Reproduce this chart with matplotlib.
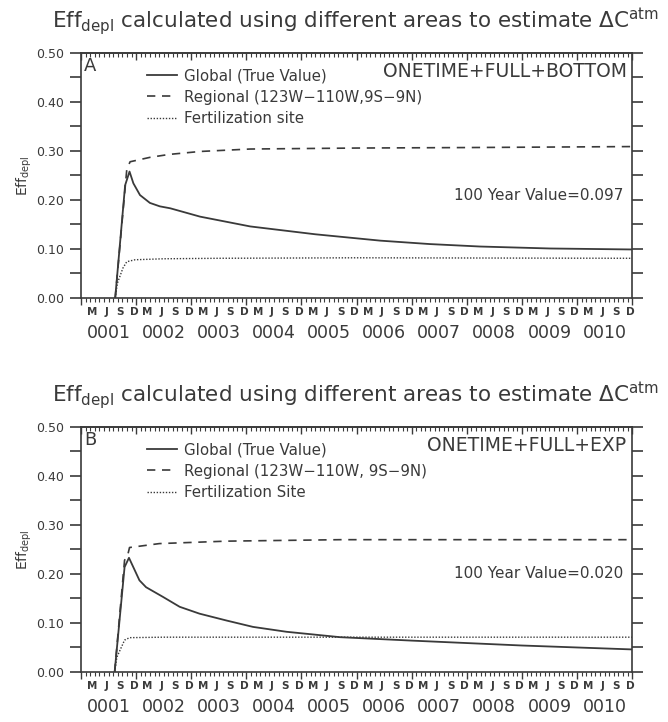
import matplotlib
matplotlib.use('Agg')
import matplotlib.pyplot as plt
from matplotlib.ticker import MultipleLocator
import matplotlib.transforms as mtransforms

# time axis in model years (0 = start of year 0001)
t_glob_a = [0.62, 0.80, 0.88, 0.95, 1.07, 1.25, 1.43, 1.62, 2.16, 3.07, 4.25, 5.43, 6.33, 7.24, 8.51, 10.0]
glob_a = [0.0, 0.230, 0.258, 0.234, 0.210, 0.194, 0.187, 0.183, 0.166, 0.146, 0.130, 0.117, 0.110, 0.105, 0.101, 0.099]
t_reg_a = [0.62, 0.83, 0.89, 1.25, 1.60, 2.16, 3.07, 5.0, 7.0, 10.0]
reg_a = [0.0, 0.262, 0.278, 0.287, 0.293, 0.299, 0.304, 0.306, 0.307, 0.309]
t_fert_a = [0.62, 0.66, 0.76, 0.83, 0.98, 1.5, 2.5, 5.0, 10.0]
fert_a = [0.0, 0.030, 0.061, 0.074, 0.078, 0.080, 0.081, 0.082, 0.081]

t_glob_b = [0.61, 0.79, 0.87, 1.06, 1.18, 1.49, 1.79, 2.15, 2.64, 3.12, 3.73, 4.70, 6.0, 7.0, 8.0, 9.0, 10.0]
glob_b = [0.0, 0.214, 0.233, 0.187, 0.173, 0.153, 0.133, 0.119, 0.105, 0.092, 0.082, 0.071, 0.064, 0.059, 0.054, 0.050, 0.046]
t_reg_b = [0.61, 0.79, 0.85, 0.88, 1.42, 2.64, 4.70, 10.0]
reg_b = [0.0, 0.228, 0.240, 0.254, 0.262, 0.267, 0.270, 0.270]
t_fert_b = [0.61, 0.65, 0.79, 0.88, 1.5, 10.0]
fert_b = [0.0, 0.030, 0.065, 0.070, 0.071, 0.071]

years = ['0001', '0002', '0003', '0004', '0005', '0006', '0007', '0008', '0009', '0010']
months = ['M', 'J', 'S', 'D']
month_idx = [2, 5, 8, 11]

panels = [
    dict(letter='A', tag='ONETIME+FULL+BOTTOM', value='100 Year Value=0.097', value_y=0.21,
         labels=['Global (True Value)', 'Regional (123W\u2212110W,9S\u22129N)', 'Fertilization site'],
         t=(t_glob_a, t_reg_a, t_fert_a), y=(glob_a, reg_a, fert_a)),
    dict(letter='B', tag='ONETIME+FULL+EXP', value='100 Year Value=0.020', value_y=0.20,
         labels=['Global (True Value)', 'Regional (123W\u2212110W, 9S\u22129N)', 'Fertilization Site'],
         t=(t_glob_b, t_reg_b, t_fert_b), y=(glob_b, reg_b, fert_b)),
]

col = '#3a3a3a'
plt.rcParams['font.family'] = 'DejaVu Sans'
plt.rcParams['mathtext.fontset'] = 'dejavusans'

fig = plt.figure(figsize=(6.68, 7.22), dpi=100)
title = r'Eff$_{\rm depl}$ calculated using different areas to estimate $\Delta$C$^{\rm atm}$'

boxes = [[0.1213, 0.5873, 0.8250, 0.3393], [0.1213, 0.0693, 0.8250, 0.3393]]
title_y = [0.970, 0.452]

for p, box, ty in zip(panels, boxes, title_y):
    ax = fig.add_axes(box)
    styles = [dict(ls='-', lw=1.3), dict(ls=(0, (5, 4)), lw=1.2), dict(ls=(0, (1, 1.2)), lw=1.0)]
    for tt, yy, lab, st in zip(p['t'], p['y'], p['labels'], styles):
        ax.plot(tt, yy, color=col, label=lab, **st)

    ax.set_xlim(0, 10)
    ax.set_ylim(0, 0.5)
    for s in ax.spines.values():
        s.set_color(col)
        s.set_linewidth(1.2)

    ax.yaxis.set_major_locator(MultipleLocator(0.1))
    ax.yaxis.set_minor_locator(MultipleLocator(0.05))
    ax.yaxis.set_major_formatter(plt.FuncFormatter(lambda v, _: f'{v:.2f}'))
    ax.tick_params(axis='y', which='both', left=True, right=True, direction='out',
                   length=8, width=1.2, color=col, labelsize=9, labelcolor=col, pad=4)

    ax.xaxis.set_major_locator(MultipleLocator(1))
    ax.xaxis.set_minor_locator(MultipleLocator(1 / 12))
    ax.tick_params(axis='x', which='major', direction='out', length=5, width=1.0, color=col,
                   labelbottom=False)
    ax.tick_params(axis='x', which='minor', direction='out', length=3, width=0.8, color=col)

    top = ax.secondary_xaxis('top')
    top.xaxis.set_major_locator(MultipleLocator(1))
    top.xaxis.set_minor_locator(MultipleLocator(1 / 12))
    top.tick_params(axis='x', which='major', direction='in', length=5, width=1.0, color=col,
                    labeltop=False)
    top.tick_params(axis='x', which='minor', direction='in', length=3, width=0.8, color=col)
    top.spines['top'].set_color(col)
    top.spines['top'].set_linewidth(1.2)

    xdata = mtransforms.blended_transform_factory(ax.transData, ax.transAxes)
    ydata = mtransforms.blended_transform_factory(ax.transAxes, ax.transData)
    for i, yr in enumerate(years):
        for m, mi in zip(months, month_idx):
            ax.text(i + (mi + 0.5) / 12, -0.058, m, transform=xdata, ha='center', va='center',
                    fontsize=7.5, fontweight='bold', color=col)
        ax.text(i + 0.5, -0.145, yr, transform=xdata, ha='center', va='center',
                fontsize=12.5, color=col)

    ax.set_ylabel(r'Eff$_{\rm depl}$', fontsize=10, color=col, labelpad=2)

    ax.text(0.006, 0.985, p['letter'], transform=ax.transAxes, ha='left', va='top',
            fontsize=13, color=col)
    ax.text(0.99, 0.965, p['tag'], transform=ax.transAxes, ha='right', va='top',
            fontsize=13.5, color=col)
    ax.text(0.984, p['value_y'], p['value'], transform=ydata, ha='right', va='center',
            fontsize=11, color=col)

    leg = ax.legend(loc='upper left', bbox_to_anchor=(0.12, 0.937), frameon=False,
                    fontsize=10.8, handlelength=2.0, handletextpad=0.45, labelspacing=0.42,
                    borderpad=0, borderaxespad=0)
    for txt in leg.get_texts():
        txt.set_color(col)

    fig.text(0.533, ty, title, ha='center', va='center', fontsize=15.5, color=col)

fig.savefig('out.png', dpi=100)
